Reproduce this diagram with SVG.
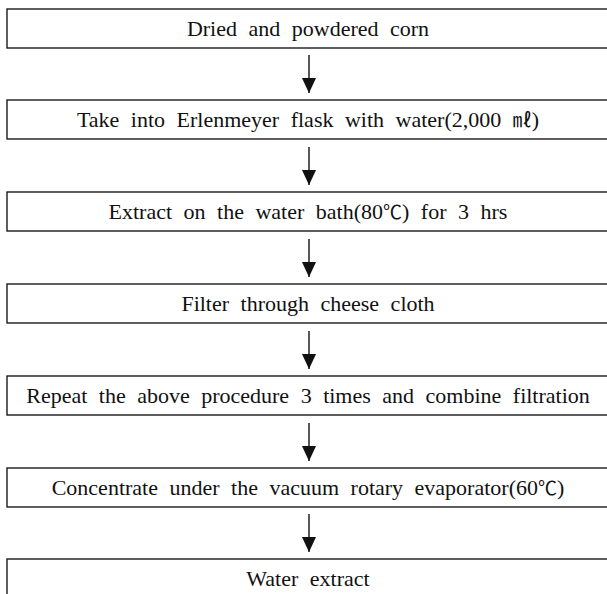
<svg xmlns="http://www.w3.org/2000/svg" width="607" height="594" viewBox="0 0 607 594">
<style>
.box{fill:#fff;stroke:#1a1a1a;stroke-width:1.4}
.t{font-family:'Liberation Serif','Times New Roman','DejaVu Serif',serif;font-size:22px;fill:#111;text-anchor:middle;word-spacing:6px}
.k{font-family:'Noto Sans CJK KR','Liberation Serif',serif;font-size:19px}
.c{stroke:#111;stroke-width:1.4;fill:none}
</style>
<defs>
<marker id="ah" markerUnits="userSpaceOnUse" markerWidth="15" markerHeight="16" refX="16" refY="7.5" orient="auto" viewBox="0 0 16 15">
<path d="M0,0 L16,7.5 L0,15 Z" fill="#111"/>
</marker>
</defs>
<rect width="607" height="594" fill="#fff"/>
<g id="n1"><rect class="box" x="7" y="9" width="604" height="39"/><text class="t" x="308" y="36">Dried and powdered corn</text></g>
<g id="n2"><rect class="box" x="7" y="100" width="604" height="39"/><text class="t" x="308" y="127">Take into Erlenmeyer flask with water(2,000 <tspan class="k">㎖</tspan>)</text></g>
<g id="n3"><rect class="box" x="7" y="192" width="604" height="39"/><text class="t" x="308" y="219">Extract on the water bath(80<tspan class="k">℃</tspan>) for 3 hrs</text></g>
<g id="n4"><rect class="box" x="7" y="284" width="604" height="39"/><text class="t" x="308" y="311">Filter through cheese cloth</text></g>
<g id="n5"><rect class="box" x="7" y="376" width="604" height="39"/><text class="t" x="308" y="403">Repeat the above procedure 3 times and combine filtration</text></g>
<g id="n6"><rect class="box" x="7" y="468" width="604" height="39"/><text class="t" x="308" y="495">Concentrate under the vacuum rotary evaporator(60<tspan class="k">℃</tspan>)</text></g>
<g id="n7"><rect class="box" x="7" y="559" width="604" height="50"/><text class="t" x="308" y="586">Water extract</text></g>
<g id="connectors">
<line class="c" x1="309" y1="55" x2="309" y2="93" marker-end="url(#ah)"/>
<line class="c" x1="309" y1="147" x2="309" y2="185" marker-end="url(#ah)"/>
<line class="c" x1="309" y1="239" x2="309" y2="277" marker-end="url(#ah)"/>
<line class="c" x1="309" y1="331" x2="309" y2="369" marker-end="url(#ah)"/>
<line class="c" x1="309" y1="423" x2="309" y2="461" marker-end="url(#ah)"/>
<line class="c" x1="309" y1="514" x2="309" y2="552" marker-end="url(#ah)"/>
</g>
</svg>
